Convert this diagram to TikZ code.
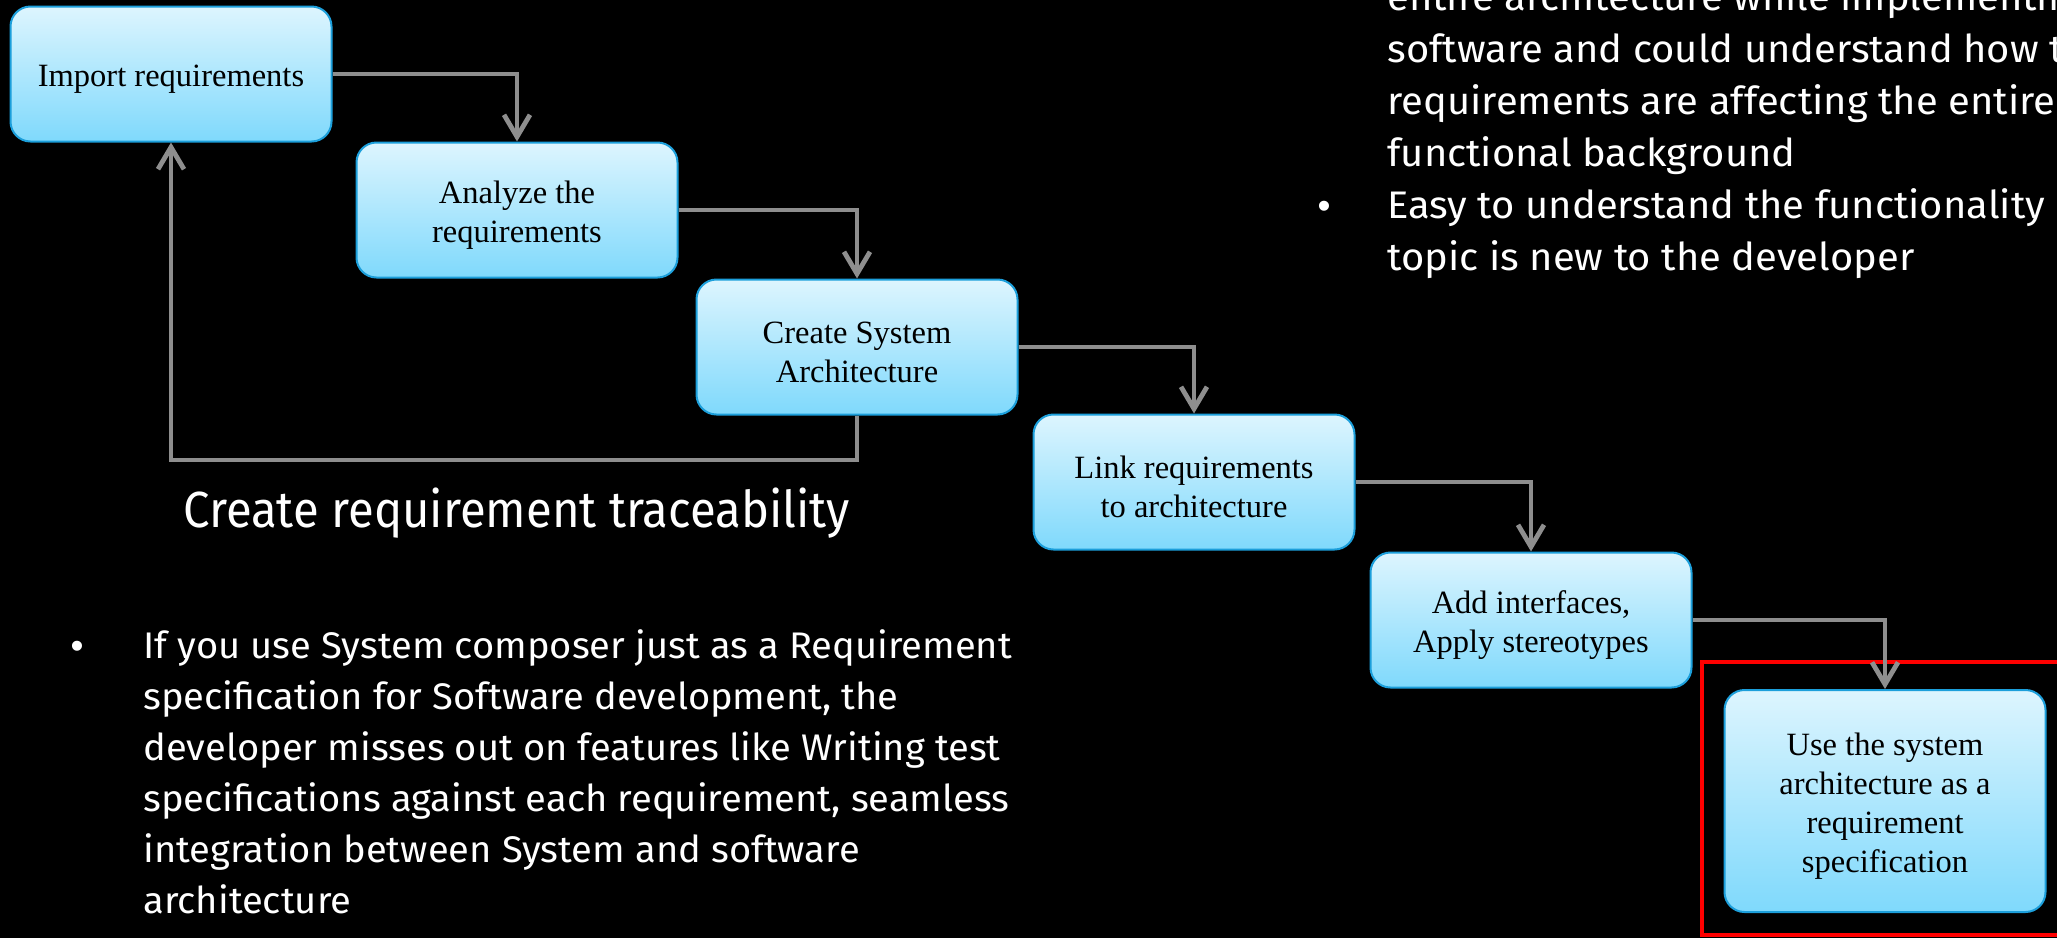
\documentclass[tikz,border=0pt]{standalone}
\usepackage{fontspec}
\setmainfont{Liberation Serif}
\newfontfamily\slidefont[FakeStretch=1.03]{Fira Sans}
\newfontfamily\notefont[FakeStretch=1.04]{Fira Sans}
\newfontfamily\headfont[FakeStretch=0.93]{Fira Sans}
\newfontfamily\dotfont{Liberation Sans}
\usetikzlibrary{arrows.meta}
\definecolor{boxtop}{HTML}{DDF5FE}
\definecolor{boxbot}{HTML}{7FD9FC}
\definecolor{boxedge}{HTML}{1C9FDB}
\definecolor{flowgray}{HTML}{8E8E8E}
\definecolor{markred}{HTML}{FF0000}
% extra headroom on the first line, so box texts sit a little low
\newcommand\boxstrut{\rule{0pt}{16pt}}
\begin{document}
\begin{tikzpicture}[x=0.5pt,y=-0.5pt,
  stepbox/.style={rectangle, rounded corners=10pt, draw=boxedge, line width=1pt,
    top color=boxtop, bottom color=boxbot, minimum width=160.5pt, minimum height=67.5pt,
    align=center, font=\fontsize{16.25pt}{19.5pt}\selectfont, text=black, inner sep=0pt},
  flow/.style={draw=flowgray, line width=2.4pt, -{Straight Barb[length=11pt,width=13pt]}},
  slide/.style={font=\slidefont\fontsize{18.5pt}{25.5pt}\selectfont, text=white, inner sep=0pt, anchor=base west},
  note/.style={font=\notefont\fontsize{19.2pt}{26pt}\selectfont, text=white, inner sep=0pt, anchor=base west},
  bulletdot/.style={font=\dotfont\fontsize{18.5pt}{25.5pt}\selectfont, text=white, inner sep=0pt, anchor=base},
  heading/.style={font=\headfont\fontsize{25.4pt}{30pt}\selectfont, text=white, inner sep=0pt, anchor=base west},
]
% canvas
\fill[black] (0,0) rectangle (2057,938);
\clip (0,0) rectangle (2057,938);

% process steps
\node[stepbox] (imp) at (171,74) {\boxstrut Import requirements};
\node[stepbox] (ana) at (517,210) {\boxstrut Analyze the\\requirements};
\node[stepbox] (cre) at (857,347) {\boxstrut Create System\\Architecture};
\node[stepbox] (lnk) at (1194,482) {\boxstrut Link requirements\\to architecture};
\node[stepbox] (add) at (1531,620) {\boxstrut Add interfaces,\\Apply stereotypes};
\node[stepbox, minimum height=111pt] (use) at (1885,801) {\boxstrut Use the system\\architecture as a\\requirement\\specification};

% highlight frame
\draw[markred, line width=2pt] (1702,662) rectangle (2080,935);

% flow connectors
\draw[flow] (imp.east) -| (ana.north);
\draw[flow] (ana.east) -| (cre.north);
\draw[flow] (cre.east) -| (lnk.north);
\draw[flow] (lnk.east) -| (add.north);
\draw[flow] (add.east) -| (use.north);
\coordinate (fb) at (0,460);
\draw[flow] (cre.south) -- (cre.south |- fb) -| (imp.south);

% caption
\node[heading] (trace) at (183,527) {Create requirement traceability};

% notes, top right
\node[note] (tr1) at (1387,10) {entire architecture while implementing the};
\node[note] (tr2) at (1387,62) {software and could understand how the};
\node[note] (tr3) at (1387,114) {requirements are affecting the entire};
\node[note] (tr4) at (1387,166) {functional background};
\node[bulletdot] (trb) at (1324,218) {•};
\node[note] (tr5) at (1387,218) {Easy to understand the functionality of the};
\node[note] (tr6) at (1387,270) {topic is new to the developer};

% notes, bottom left
\node[bulletdot] (blb) at (77,658) {•};
\node[slide] (bl1) at (143,658) {If you use System composer just as a Requirement};
\node[slide] (bl2) at (143,709) {specification for Software development, the};
\node[slide] (bl3) at (143,760) {developer misses out on features like Writing test};
\node[slide] (bl4) at (143,811) {specifications against each requirement, seamless};
\node[slide] (bl5) at (143,862) {integration between System and software};
\node[slide] (bl6) at (143,913) {architecture};
\end{tikzpicture}
\end{document}
